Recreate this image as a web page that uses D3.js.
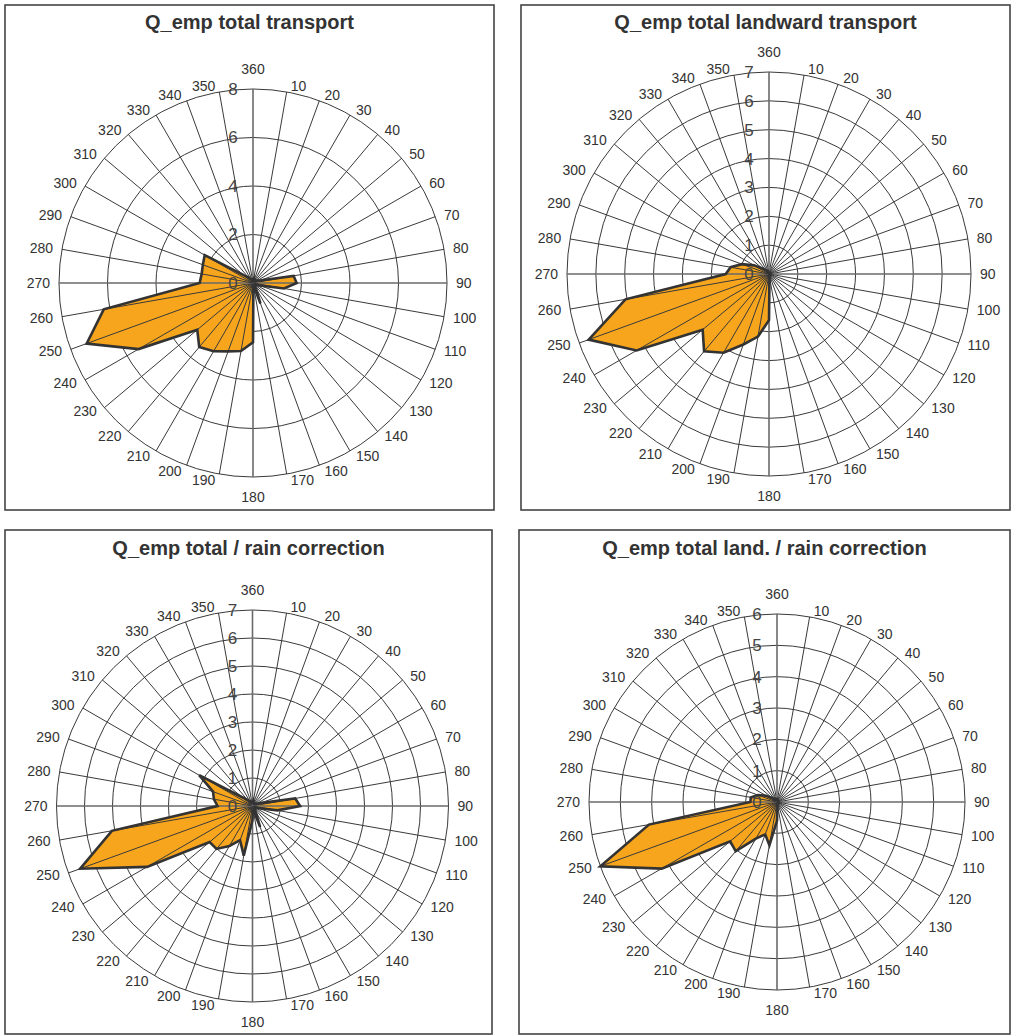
<!DOCTYPE html>
<html>
<head>
<meta charset="utf-8">
<script src="https://cdn.jsdelivr.net/npm/d3@7.9.0/dist/d3.min.js"></script>
<style>
  html, body { margin: 0; padding: 0; background: #fff; }
  svg { display: block; font-family: "Liberation Sans", Arial, sans-serif; }
</style>
</head>
<body>
<svg id="chart" width="1014" height="1036"></svg>
<script>
// wind direction sectors, degrees clockwise from north
const directions = d3.range(10, 361, 10);

const titles = [
  'Q_emp total transport',
  'Q_emp total landward transport',
  'Q_emp total / rain correction',
  'Q_emp total land. / rain correction',
];

// values per sector 10..360
const totalTransport = [
  0.2, 0.15, 0.15, 0.1, 0.1, 0.2, 0.3, 1.7, 1.8, 1.3, 0.3, 0.15,
  0.1, 0.1, 0.2, 0.9, 0.1, 2.45, 2.85, 3.0, 3.25, 3.45, 3.0, 5.45,
  7.3, 6.25, 2.2, 2.15, 2.2, 2.3, 0.5, 0.3, 0.2, 0.15, 0.1, 0.15,
];
const landwardTransport = [
  0.05, 0.05, 0.05, 0.05, 0.05, 0.05, 0.05, 0.05, 0.05, 0.05, 0.05, 0.05,
  0.05, 0.05, 0.05, 0.05, 0.1, 1.6, 2.2, 2.6, 3.15, 3.5, 3.0, 5.3,
  6.65, 5.05, 1.5, 1.35, 1.0, 0.6, 0.3, 0.2, 0.1, 0.1, 0.05, 0.05,
];
const rainCorrected = [
  0.2, 0.15, 0.1, 0.1, 0.1, 0.15, 0.3, 1.55, 1.7, 0.9, 0.2, 0.1,
  0.1, 0.1, 0.2, 0.8, 0.1, 0.5, 1.8, 1.3, 1.65, 2.0, 2.0, 4.35,
  6.55, 5.1, 1.25, 1.4, 1.5, 2.2, 0.5, 0.3, 0.2, 0.15, 0.1, 0.1,
];
const landRainCorrected = [
  0.05, 0.05, 0.05, 0.05, 0.05, 0.05, 0.05, 0.05, 0.05, 0.05, 0.05, 0.05,
  0.05, 0.05, 0.05, 0.05, 0.1, 0.6, 1.4, 1.1, 1.35, 2.05, 1.95, 4.25,
  6.0, 4.15, 0.85, 0.85, 0.65, 0.4, 0.2, 0.1, 0.1, 0.1, 0.1, 0.1,
];

const ticks1 = [0, 2, 4, 6, 8];
const ticks2 = [0, 1, 2, 3, 4, 5, 6, 7];
const ticks3 = [0, 1, 2, 3, 4, 5, 6, 7];
const ticks4 = [0, 1, 2, 3, 4, 5, 6];

const series = [totalTransport, landwardTransport, rainCorrected, landRainCorrected];
const tickSets = [ticks1, ticks2, ticks3, ticks4];

// layout of the four panels
const panels = [
  { frame: [5, 5, 489, 505], cx: 253, cy: 283, r: 194, titleY: 29 },
  { frame: [521, 5, 489, 505], cx: 769, cy: 274, r: 202, titleY: 29 },
  { frame: [5, 530, 487, 504], cx: 252.5, cy: 806, r: 196, titleY: 555 },
  { frame: [519, 530, 491, 504], cx: 777, cy: 802, r: 188, titleY: 555 },
];

const svg = d3.select('#chart');

function drawPanel(p, i) {
  const values = series[i];
  const ticks = tickSets[i];
  const maxValue = d3.max(ticks);

  const [fx, fy, fw, fh] = p.frame;
  svg.append('rect')
    .attr('x', fx).attr('y', fy).attr('width', fw).attr('height', fh)
    .attr('fill', '#fff').attr('stroke', '#444').attr('stroke-width', 1.6);

  svg.append('text')
    .attr('x', fx + fw / 2).attr('y', p.titleY)
    .attr('text-anchor', 'middle')
    .attr('font-size', 20).attr('font-weight', 'bold').attr('fill', '#333')
    .text(titles[i]);

  const g = svg.append('g').attr('transform', `translate(${p.cx},${p.cy})`);

  const angle = d3.scaleLinear().domain([0, 360]).range([0, 2 * Math.PI]);
  const radius = d3.scaleLinear().domain([0, maxValue]).range([0, p.r]);

  // rings
  g.append('g').selectAll('circle')
    .data(ticks.filter((t) => t > 0))
    .join('circle')
    .attr('r', (d) => radius(d))
    .attr('fill', 'none').attr('stroke', '#3a3a3a').attr('stroke-width', 1);

  // filled area
  const line = d3.lineRadial()
    .angle((d, j) => angle(directions[j]))
    .radius((d) => radius(d))
    .curve(d3.curveLinearClosed);

  g.append('path')
    .datum(values)
    .attr('d', line)
    .attr('fill', '#f7a51c');

  // spokes on top of the fill
  g.append('g').selectAll('line')
    .data(directions)
    .join('line')
    .attr('x1', 0).attr('y1', 0)
    .attr('x2', (d) => Math.sin(angle(d)) * p.r)
    .attr('y2', (d) => -Math.cos(angle(d)) * p.r)
    .attr('stroke', (d) => (d % 90 === 0 ? '#6a6a6a' : '#3a3a3a'))
    .attr('stroke-width', (d) => (d % 90 === 0 ? 1.6 : 1));

  g.append('path')
    .datum(values)
    .attr('d', line)
    .attr('fill', 'none')
    .attr('stroke', '#333')
    .attr('stroke-width', 2.6)
    .attr('stroke-linejoin', 'miter');

  // direction labels: beside the spoke end, centred only at north and south
  g.append('g').selectAll('text')
    .data(directions)
    .join('text')
    .each(function (d) {
      const a = angle(d);
      const t = d3.select(this).attr('dy', '0.35em');
      if (d === 360 || d === 180) {
        const off = p.r + 20;
        t.attr('x', 0).attr('y', d === 360 ? -off : off).attr('text-anchor', 'middle');
      } else {
        const off = p.r + 6;
        const right = d < 180;
        t.attr('x', Math.sin(a) * off + (right ? 3 : -3))
          .attr('y', -Math.cos(a) * off)
          .attr('text-anchor', right ? 'start' : 'end');
      }
    })
    .attr('font-size', 14).attr('fill', '#333')
    .text((d) => d);

  // value labels along the north axis
  g.append('g').selectAll('text')
    .data(ticks)
    .join('text')
    .attr('x', -20)
    .attr('y', (d) => -radius(d))
    .attr('dy', '0.35em')
    .attr('text-anchor', 'middle')
    .attr('font-size', 17).attr('fill', '#444')
    .text((d) => d);
}

panels.forEach(drawPanel);
</script>
</body>
</html>
